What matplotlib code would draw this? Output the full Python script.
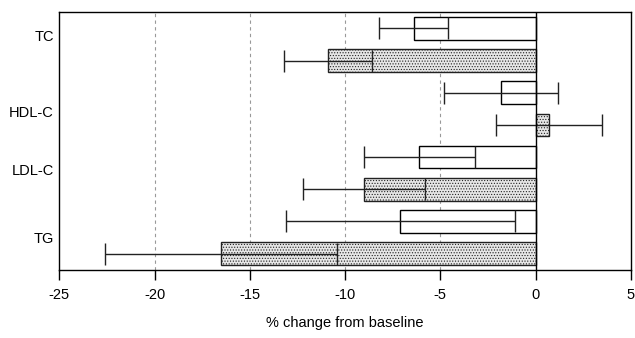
import matplotlib.pyplot as plt
import numpy as np

plt.rcParams['font.family'] = ['Liberation Sans', 'DejaVu Sans']
plt.rcParams['hatch.color'] = '#808080'
plt.rcParams['hatch.linewidth'] = 0.5

labels = ['TC', 'HDL-C', 'LDL-C', 'TG']
label_pos = [0.21, 2.58, 4.38, 6.50]

# white bars (first group) and dotted bars (second group), mean and error
white_mean = [-6.4, -1.8, -6.1, -7.1]
white_err = [1.8, 3.0, 2.9, 6.0]
grey_mean = [-10.9, 0.7, -9.0, -16.5]
grey_err = [2.3, 2.8, 3.2, 6.1]

xticks = [-25, -20, -15, -10, -5, 0, 5]

fig = plt.figure(figsize=(6.35, 3.38), dpi=100)
ax = fig.add_axes([0.0934, 0.202, 0.9, 0.7616])

y_white = np.arange(len(labels)) * 2
y_grey = y_white + 1

for x in [-20, -15, -10, -5]:
    ax.axvline(x, color='#999999', lw=0.8, ls=(0, (3, 3)), zorder=0)

ax.barh(y_white, white_mean, height=0.7, color='white', edgecolor='black',
        linewidth=1, zorder=2)
ax.barh(y_grey, grey_mean, height=0.7, color='#e6e6e6', edgecolor='#222222',
        linewidth=1, hatch='......', zorder=2)

ax.errorbar(white_mean, y_white, xerr=white_err, fmt='none', ecolor='#222222',
            elinewidth=1, capsize=8, capthick=1, zorder=3)
ax.errorbar(grey_mean, y_grey, xerr=grey_err, fmt='none', ecolor='#222222',
            elinewidth=1, capsize=8, capthick=1, zorder=3)

ax.axvline(0, color='black', lw=1, zorder=4)

ax.set_xlim(-25, 5)
ax.set_ylim(7.5, -0.5)
ax.set_xticks(xticks)
ax.set_xticklabels([str(t) for t in xticks], fontsize=10.5)
ax.tick_params(axis='x', direction='out', length=7, width=1, pad=6)
ax.set_yticks(label_pos)
ax.set_yticklabels(labels, fontsize=10.5)
ax.tick_params(axis='y', length=0, pad=4)
for s in ax.spines.values():
    s.set_linewidth(1)
ax.set_xlabel('% change from baseline', fontsize=10.5, labelpad=10)

fig.savefig('out.png', dpi=100)
